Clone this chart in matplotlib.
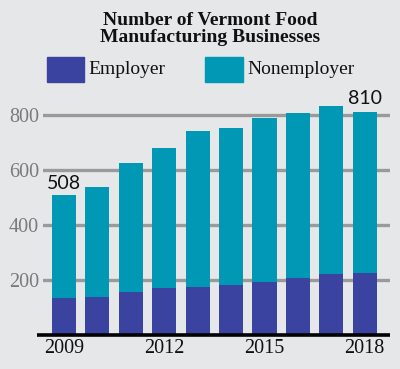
import matplotlib
matplotlib.use("Agg")
import matplotlib.pyplot as plt
from matplotlib.patches import Rectangle

years = [2009, 2010, 2011, 2012, 2013, 2014, 2015, 2016, 2017, 2018]
employer = [135, 138, 158, 172, 175, 183, 192, 206, 222, 226]
totals = [508, 539, 627, 681, 742, 752, 790, 808, 834, 810]
nonemployer = [t - e for t, e in zip(totals, employer)]
yticks = [200, 400, 600, 800]
xlabels = [2009, 2012, 2015, 2018]

W, H = 400, 369
bg = "#e6e7e8"
c_emp = "#3a43a0"
c_non = "#0098b4"

fig = plt.figure(figsize=(W / 100, H / 100), dpi=100, facecolor=bg)
ppu = 0.275
ymax = 870
ax = fig.add_axes([43 / W, (H - 335) / H, (390 - 43) / W, ymax * ppu / H])
ax.set_facecolor(bg)
for s in ax.spines.values():
    s.set_visible(False)

for t in yticks:
    ax.axhline(t, color="#9a9a9a", lw=2.4, zorder=0)

bw = 0.72
ax.bar(years, employer, width=bw, color=c_emp, zorder=2)
ax.bar(years, nonemployer, bottom=employer, width=bw, color=c_non, zorder=2)

ax.set_xlim(2009 - 0.629, 2018 + 0.757)
ax.set_ylim(0, ymax)
ax.plot([2009 - 0.81, 2018 + 0.757], [0, 0], color="black", lw=2.6,
        clip_on=False, zorder=3, solid_capstyle="butt")

ax.set_yticks(yticks)
ax.set_yticklabels([str(t) for t in yticks], color="#7a7a7a",
                   fontsize=14.5, family="Liberation Serif")
ax.tick_params(axis="y", length=0, pad=3)
ax.set_xticks(xlabels)
ax.set_xticklabels([str(x) for x in xlabels], fontsize=14.5,
                   family="Liberation Serif", color="#111111")
ax.tick_params(axis="x", length=0, pad=3)

ax.text(years[0], totals[0] + 12, str(totals[0]), ha="center", va="bottom",
        fontsize=14, family="Lato", color="#111111")
ax.text(years[-1], totals[-1] + 20, str(totals[-1]), ha="center", va="bottom",
        fontsize=14, family="Lato", color="#111111", clip_on=False)

fig.text(210 / W, 1 - 29 / H, "Number of Vermont Food\nManufacturing Businesses",
         ha="center", va="center", fontsize=14, fontweight="bold",
         family="Liberation Serif", linespacing=1.0, color="#111111")

# legend
fig.patches.append(Rectangle((47 / W, 1 - 82 / H), 37 / W, 25 / H,
                             transform=fig.transFigure, color=c_emp))
fig.text(88 / W, 1 - 70 / H, "Employer", ha="left", va="center",
         fontsize=14, family="Liberation Serif", color="#111111")
fig.patches.append(Rectangle((205 / W, 1 - 82 / H), 38 / W, 25 / H,
                             transform=fig.transFigure, color=c_non))
fig.text(247 / W, 1 - 70 / H, "Nonemployer", ha="left", va="center",
         fontsize=14, family="Liberation Serif", color="#111111")

fig.savefig("out.png", dpi=100, facecolor=bg)
